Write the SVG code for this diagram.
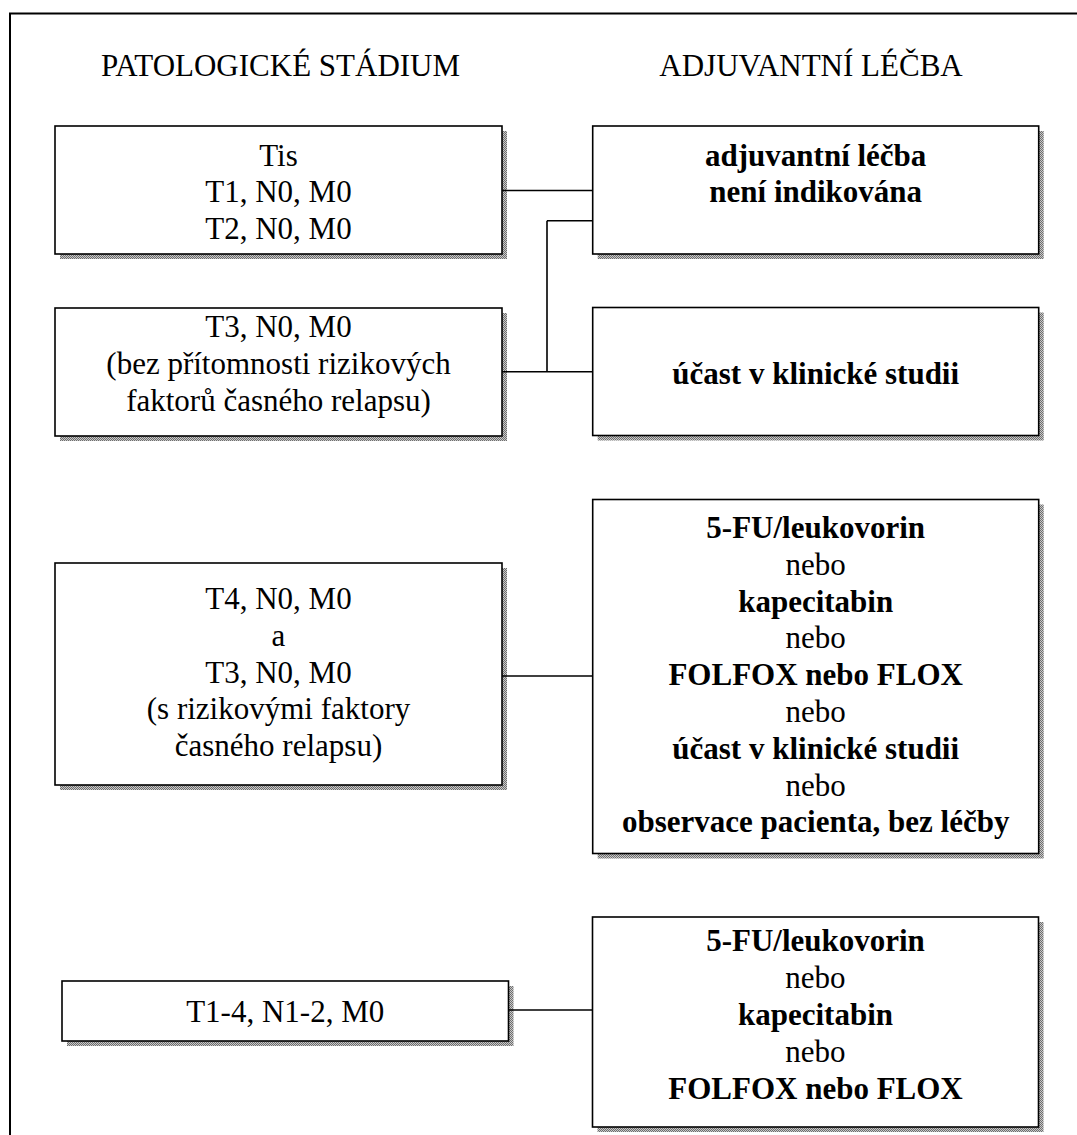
<svg xmlns="http://www.w3.org/2000/svg" width="1077" height="1135" viewBox="0 0 1077 1135">
<defs>
<pattern id="dither" width="2" height="2" patternUnits="userSpaceOnUse">
<rect width="2" height="2" fill="#c8c8c8"/>
<rect width="1" height="1" fill="#6e6e6e"/>
<rect x="1" y="1" width="1" height="1" fill="#6e6e6e"/>
</pattern>
</defs>
<style>
.shadow{fill:url(#dither);stroke:none}
.box{fill:#fff;stroke:#000;stroke-width:1.6}
.t{font-family:"Liberation Serif","Times New Roman",serif;font-size:31px;fill:#000;text-anchor:middle}
.b{font-weight:bold}
.conn{fill:none;stroke:#000;stroke-width:1.6}
</style>
<rect width="1077" height="1135" fill="#fff"/>
<path d="M10,1135 V13.5 H1077" fill="none" stroke="#000" stroke-width="2"/>

<g id="headers">
<text class="t" x="280.5" y="76">PATOLOGICKÉ STÁDIUM</text>
<text class="t" x="811" y="76">ADJUVANTNÍ LÉČBA</text>
</g>

<g id="L1">
<rect class="shadow" x="60" y="131" width="447" height="128"/>
<rect class="box" x="55" y="126" width="447" height="128"/>
<text class="t" x="278.5" y="166">Tis</text>
<text class="t" x="278.5" y="202">T1, N0, M0</text>
<text class="t" x="278.5" y="238.5">T2, N0, M0</text>
</g>

<g id="R1">
<rect class="shadow" x="597.7" y="131" width="446" height="128"/>
<rect class="box" x="592.7" y="126" width="446" height="128"/>
<text class="t b" x="815.7" y="166">adjuvantní léčba</text>
<text class="t b" x="815.7" y="202">není indikována</text>
</g>

<g id="L2">
<rect class="shadow" x="60" y="313" width="447" height="128"/>
<rect class="box" x="55" y="308" width="447" height="128"/>
<text class="t" x="278.5" y="337">T3, N0, M0</text>
<text class="t" x="278.5" y="374">(bez přítomnosti rizikových</text>
<text class="t" x="278.5" y="411">faktorů časného relapsu)</text>
</g>

<g id="R2">
<rect class="shadow" x="597.7" y="312.5" width="446" height="128"/>
<rect class="box" x="592.7" y="307.5" width="446" height="128"/>
<text class="t b" x="815.7" y="384">účast v klinické studii</text>
</g>

<g id="L3">
<rect class="shadow" x="60" y="568" width="447" height="222"/>
<rect class="box" x="55" y="563" width="447" height="222"/>
<text class="t" x="278.5" y="609">T4, N0, M0</text>
<text class="t" x="278.5" y="645.8">a</text>
<text class="t" x="278.5" y="682.6">T3, N0, M0</text>
<text class="t" x="278.5" y="719.4">(s rizikovými faktory</text>
<text class="t" x="278.5" y="756.2">časného relapsu)</text>
</g>

<g id="R3">
<rect class="shadow" x="597.7" y="504.5" width="446" height="354"/>
<rect class="box" x="592.7" y="499.5" width="446" height="354"/>
<text class="t b" x="815.7" y="538">5-FU/leukovorin</text>
<text class="t" x="815.7" y="574.8">nebo</text>
<text class="t b" x="815.7" y="611.6">kapecitabin</text>
<text class="t" x="815.7" y="648.4">nebo</text>
<text class="t b" x="815.7" y="685.2">FOLFOX nebo FLOX</text>
<text class="t" x="815.7" y="722">nebo</text>
<text class="t b" x="815.7" y="758.8">účast v klinické studii</text>
<text class="t" x="815.7" y="795.6">nebo</text>
<text class="t b" x="815.7" y="832.4">observace pacienta, bez léčby</text>
</g>

<g id="L4">
<rect class="shadow" x="67" y="986" width="446.5" height="60"/>
<rect class="box" x="62" y="981" width="446.5" height="60"/>
<text class="t" x="285.2" y="1022">T1-4, N1-2, M0</text>
</g>

<g id="R4">
<rect class="shadow" x="597.5" y="922" width="446" height="210"/>
<rect class="box" x="592.5" y="917" width="446" height="210"/>
<text class="t b" x="815.5" y="951.4">5-FU/leukovorin</text>
<text class="t" x="815.5" y="988.2">nebo</text>
<text class="t b" x="815.5" y="1025">kapecitabin</text>
<text class="t" x="815.5" y="1061.8">nebo</text>
<text class="t b" x="815.5" y="1098.6">FOLFOX nebo FLOX</text>
</g>

<g id="connectors">
<path class="conn" d="M502,190.5 H592.7"/>
<path class="conn" d="M547,220.7 H592.7 M547,220.7 V371.7 M502,371.7 H592.7"/>
<path class="conn" d="M502,676 H592.7"/>
<path class="conn" d="M508.5,1010 H592.5"/>
</g>
</svg>
